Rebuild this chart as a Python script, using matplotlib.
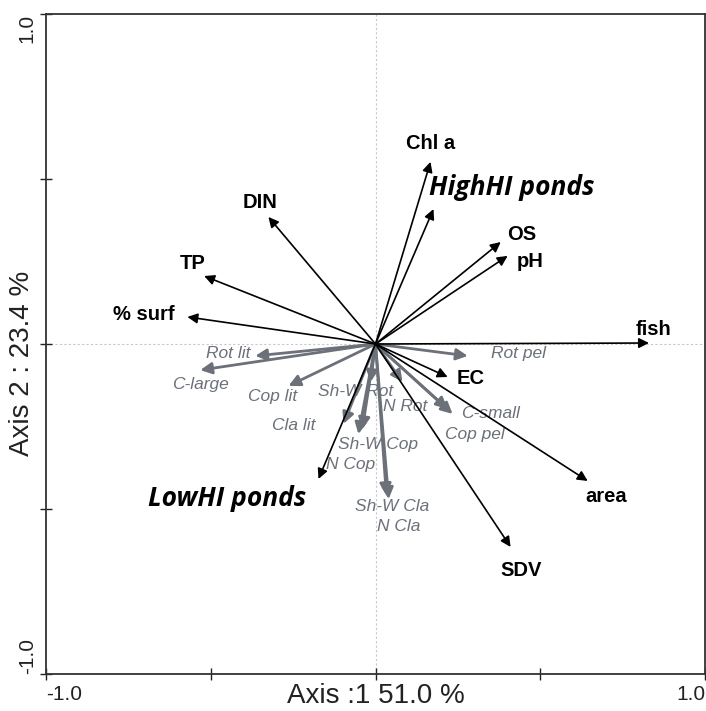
import matplotlib.pyplot as plt

# environmental variables (black arrows), tips in ordination units
env_names = ['Chl a', 'OS', 'pH', 'fish', 'EC', 'area', 'SDV', 'DIN', 'TP', '% surf']
env_x = [0.167, 0.380, 0.401, 0.830, 0.219, 0.644, 0.410, -0.325, -0.520, -0.571]
env_y = [0.552, 0.309, 0.267, 0.003, -0.100, -0.415, -0.615, 0.385, 0.206, 0.082]

# pond groups (black arrows, big italic labels)
grp_names = ['HighHI ponds', 'LowHI ponds']
grp_x = [0.176, -0.173]
grp_y = [0.409, -0.409]

# zooplankton groups (grey arrows)
zoo_names = ['Rot lit', 'C-large', 'Cop lit', 'Cla lit', 'Sh-W Rot', 'Sh-W Cop', 'N Cop',
             'Sh-W Cla', 'N Cla', 'N Rot', 'C-small', 'Cop pel', 'Rot pel']
zoo_x = [-0.365, -0.532, -0.264, -0.097, -0.015, -0.040, -0.052,
         0.040, 0.033, 0.082, 0.234, 0.219, 0.280]
zoo_y = [-0.036, -0.079, -0.127, -0.242, -0.115, -0.258, -0.273,
         -0.470, -0.458, -0.115, -0.212, -0.197, -0.036]

# label offsets in pixels from the arrow tips
env_off = [(0, 18), (21, 8), (23, -6), (5, 14), (23, -2), (18, -16), (10, -24),
           (-8, 14), (-11, 13), (-44, 2)]
grp_off = [(78, 22), (-91, -20)]
zoo_off = [(-27, 2), (0, -14), (-16, -11), (-50, -2), (-15, -10), (16, -15), (-8, -30),
           (3, -7), (12, -31), (3, -25), (38, 0), (27, -25), (51, 2)]

grey = '#6b7079'

fig = plt.figure(figsize=(7.06, 7.11), dpi=100)
ax = fig.add_axes([46/706, 37/711, 659/706, 660/711])
ax.set_xlim(-1, 1)
ax.set_ylim(-1, 1)

ax.axhline(0, color='#c8c8c8', lw=0.8, ls=(0, (2, 2)), zorder=0)
ax.axvline(0, color='#c8c8c8', lw=0.8, ls=(0, (2, 2)), zorder=0)

for name, x, y, off in zip(zoo_names, zoo_x, zoo_y, zoo_off):
    ax.annotate('', xy=(x, y), xytext=(0, 0),
                arrowprops=dict(arrowstyle='-|>', color=grey, lw=2.0, mutation_scale=17,
                                shrinkA=0, shrinkB=0))
    ax.annotate(name, xy=(x, y), xytext=off, textcoords='offset pixels',
                ha='center', va='center', fontsize=12.5, style='italic',
                color=grey, family='Liberation Sans')

for name, x, y, off in zip(env_names, env_x, env_y, env_off):
    ax.annotate('', xy=(x, y), xytext=(0, 0),
                arrowprops=dict(arrowstyle='-|>', color='black', lw=1.2, mutation_scale=15,
                                shrinkA=0, shrinkB=0))
    ax.annotate(name, xy=(x, y), xytext=off, textcoords='offset pixels',
                ha='center', va='center', fontsize=14.5, weight='bold',
                family='Liberation Sans')

for name, x, y, off in zip(grp_names, grp_x, grp_y, grp_off):
    ax.annotate('', xy=(x, y), xytext=(0, 0),
                arrowprops=dict(arrowstyle='-|>', color='black', lw=1.2, mutation_scale=15,
                                shrinkA=0, shrinkB=0))
    ax.annotate(name, xy=(x, y), xytext=off, textcoords='offset pixels',
                ha='center', va='center', fontsize=19, weight='bold', style='italic',
                family=['Open Sans', 'DejaVu Sans'])

ax.set_xticks([-1, -0.5, 0, 0.5, 1])
ax.set_yticks([-1, -0.5, 0, 0.5, 1])
ax.set_xticklabels([])
ax.set_yticklabels([])
ax.tick_params(direction='inout', length=8, width=1, color='#222222')
for s in ax.spines.values():
    s.set_linewidth(1.3)
    s.set_color('#333333')

tl = dict(fontsize=15, family='Liberation Sans', color='#222222')
ax.text(0.0, -0.016, '-1.0', transform=ax.transAxes, ha='left', va='top', **tl)
ax.text(1.0, -0.016, '1.0', transform=ax.transAxes, ha='right', va='top', **tl)
ax.text(-0.014, 1.0, '1.0', transform=ax.transAxes, ha='right', va='top', rotation=90, **tl)
ax.text(-0.014, 0.0, '-1.0', transform=ax.transAxes, ha='right', va='bottom', rotation=90, **tl)

ax.text(0.5, -0.044, 'Axis :1 51.0 %', transform=ax.transAxes, ha='center', va='baseline',
        fontsize=20, family='Liberation Sans', color='#222222')
ax.text(-0.036, 0.47, 'Axis 2 : 23.4 %', transform=ax.transAxes, ha='center', va='center',
        rotation=90, fontsize=20, family='Liberation Sans', color='#222222')

fig.savefig('out.png', dpi=100)
